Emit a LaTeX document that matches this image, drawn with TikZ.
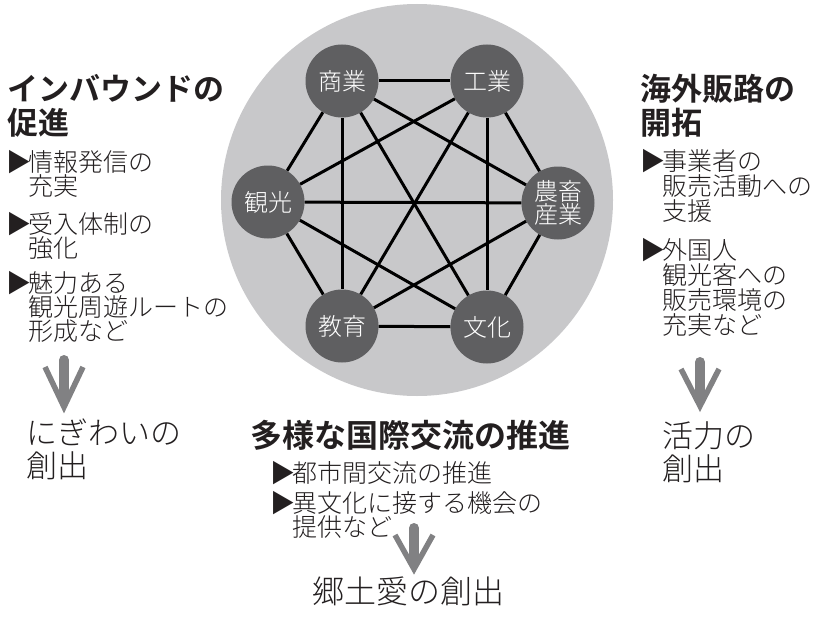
\documentclass[tikz,border=0pt]{standalone}
\usepackage{fontspec}
\IfFontExistsTF{Noto Sans CJK JP Light}{%
  \setmainfont{Noto Sans CJK JP Light}[BoldFont=Noto Sans CJK JP Bold]%
}{%
  \setmainfont{Noto Sans CJK JP}[AutoFakeBold=2]%
}
\usetikzlibrary{calc}
\definecolor{bigcircle}{HTML}{C8C8CA}
\definecolor{nodegray}{HTML}{5F5F61}
\definecolor{arrowgray}{HTML}{818183}
\definecolor{ink}{HTML}{231F20}
\newcommand\mylines[1]{\vtop{\lineskiplimit=-100pt\lineskip=0pt\halign{##\hfil\cr#1\crcr}}}
\newcommand\bul{\llap{▶\kern-3pt}}
\begin{document}
\begin{tikzpicture}[x=1pt,y=-1pt,
  ring/.style={circle, fill=bigcircle, inner sep=0pt, minimum size=392pt},
  topic/.style={circle, fill=nodegray, inner sep=0pt, minimum size=73pt, text=white,
    align=center, font=\fontsize{24}{23}\selectfont},
  edge/.style={draw=black, line width=3pt},
  txt/.style={anchor=base west, inner sep=0pt, outer sep=0pt, text=ink},
  headfont/.style={font=\fontsize{31}{34}\selectfont\bfseries},
  bodyfont/.style={font=\fontsize{25}{24.3}\selectfont},
  rbodyfont/.style={font=\fontsize{25}{25.3}\selectfont},
  outfont/.style={font=\fontsize{31}{33}\selectfont},
  shaft/.style={draw=arrowgray, line width=10pt, line cap=round},
  chevron/.style={draw=arrowgray, line width=5.5pt, line join=miter}]
\useasboundingbox (0,0) rectangle (814,618);

% central hub
\node[ring] (hub) at (417,200) {};
\node[topic] (sho) at (342,81) {商業};
\node[topic] (ko)  at (487,81) {工業};
\node[topic] (kan) at (268,202) {観光};
\node[topic] (no)  at (558,203) {農畜\\産業};
\node[topic] (kyo) at (342,326) {教育};
\node[topic] (bun) at (487,327) {文化};
\foreach \a/\b in {sho/ko,sho/kan,sho/no,sho/kyo,sho/bun,
                   ko/kan,ko/no,ko/kyo,ko/bun,
                   kan/no,kan/kyo,kan/bun,
                   no/kyo,no/bun,
                   kyo/bun}
  \draw[edge] (\a) -- (\b);

% left column
\node[txt, headfont] (ltitle) at (8,100) {\mylines{インバウンドの\cr 促進}};
\node[txt, bodyfont] (lb1) at (28,171) {\mylines{\bul 情報発信の\cr 充実}};
\node[txt, bodyfont] (lb2) at (28,233) {\mylines{\bul 受入体制の\cr 強化}};
\node[txt, bodyfont] (lb3) at (28,292) {\mylines{\bul 魅力ある\cr 観光周遊ルートの\cr 形成など}};
\node[txt, outfont] (lout) at (27,444) {\mylines{にぎわいの\cr 創出}};

% right column
\node[txt, headfont] (rtitle) at (640,100) {\mylines{海外販路の\cr 開拓}};
\node[txt, rbodyfont] (rb1) at (662,170) {\mylines{\bul 事業者の\cr 販売活動への\cr 支援}};
\node[txt, rbodyfont] (rb2) at (662,259) {\mylines{\bul 外国人\cr 観光客への\cr 販売環境の\cr 充実など}};
\node[txt, outfont] (rout) at (662,447) {\mylines{活力の\cr 創出}};

% bottom
\node[txt, font=\fontsize{32}{34}\selectfont\bfseries] (btitle) at (250,447) {多様な国際交流の推進};
\node[txt, font=\fontsize{25}{24.5}\selectfont] (bb1) at (292,482) {\mylines{\bul 都市間交流の推進}};
\node[txt, font=\fontsize{25}{24.5}\selectfont] (bb2) at (292,512) {\mylines{\bul 異文化に接する機会の\cr 提供など}};
\node[txt, font=\fontsize{32}{34}\selectfont] (bout) at (312,603) {郷土愛の創出};

% arrows
\coordinate (la0) at (64,355);  \coordinate (la1) at (64,412);
\coordinate (ra0) at (700,357); \coordinate (ra1) at (700,411);
\coordinate (ba0) at (414,523); \coordinate (ba1) at (414,574);
\foreach \p in {la,ra,ba}{
  \draw[shaft] ($(\p0)+(0,5)$) -- ($(\p1)+(0,-15)$);
  \draw[chevron] ($(\p0)+(-19,12)$) -- ($(\p1)+(0,-5)$) -- ($(\p0)+(19,12)$);
}
\end{tikzpicture}
\end{document}
